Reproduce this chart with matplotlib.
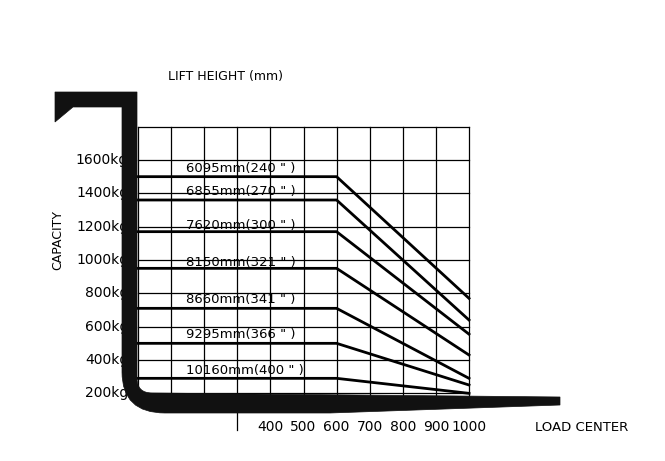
import matplotlib
matplotlib.use("Agg")
import matplotlib.pyplot as plt
import numpy as np
from matplotlib.path import Path
from matplotlib.patches import PathPatch

FONT = ['Liberation Sans Narrow', 'DejaVu Sans']
plt.rcParams['font.family'] = FONT

lift_labels = ['6095mm(240 " )', '6855mm(270 " )', '7620mm(300 " )', '8150mm(321 " )',
               '8660mm(341 " )', '9295mm(366 " )', '10160mm(400 " )']
cap_flat = [1500, 1360, 1170, 950, 710, 500, 290]
cap_1000 = [770, 640, 555, 430, 290, 250, 200]
label_y = [1550, 1410, 1210, 985, 760, 555, 340]
load_centers = [0, 600, 1000]
x_ticks = [400, 500, 600, 700, 800, 900, 1000]
y_ticks = [1600, 1400, 1200, 1000, 800, 600, 400, 200]

W, H = 665, 461
fig = plt.figure(figsize=(W/100, H/100), dpi=100)
ax = fig.add_axes([0, 0, 1, 1])
sx = 0.331
sy = 6.0
x0, y0 = 138, 160
ax.set_xlim(-x0/sx, (W-x0)/sx)
ax.set_ylim(1600-(H-y0)*sy, 1600+y0*sy)
ax.axis('off')

# grid
ytop, ybot = 1800, 175
for gx in range(0, 1001, 100):
    ax.plot([gx, gx], [ybot, ytop], color='black', lw=0.9)
for gy in range(200, 1801, 200):
    ax.plot([0, 1000], [gy, gy], color='black', lw=0.9)
ax.plot([300, 300], [ybot, 1600-(430-160)*sy], color='black', lw=0.9)

for lab, cf, ce, ly in zip(lift_labels, cap_flat, cap_1000, label_y):
    ax.plot(load_centers, [cf, cf, ce], color='black', lw=2, solid_joinstyle='miter')
    ax.text(145, ly, lab, fontsize=9.5, ha='left', va='center')

for t in x_ticks:
    ax.text(t, 1600-(427-160)*sy, str(t), fontsize=10, ha='center', va='center')
for t in y_ticks:
    ax.text(-30, t, f'{t}kg', fontsize=10, ha='right', va='center')

ax.text((225-x0)/sx, 1600-(76-160)*sy, 'LIFT HEIGHT (mm)', fontsize=9, ha='center', va='center')
ax.text((582-x0)/sx, 1600-(427-160)*sy, 'LOAD CENTER', fontsize=9.5, ha='center', va='center')
ax.text((58-x0)/sx, 1600-(240-160)*sy, 'CAPACITY', fontsize=9, ha='center', va='center', rotation=90)

# fork (pixel coordinate overlay)
fx = fig.add_axes([0, 0, 1, 1], facecolor='none')
fx.set_xlim(0, W); fx.set_ylim(H, 0); fx.axis('off')
verts = [(55, 92), (137, 92), (137, 378), (137, 393), (152, 393), (560, 397), (560, 405),
         (330, 413), (165, 413), (122, 413), (122, 372), (122, 107), (73, 107), (55, 122), (55, 92)]
codes = [Path.MOVETO, Path.LINETO, Path.LINETO, Path.CURVE3, Path.CURVE3, Path.LINETO, Path.LINETO,
         Path.LINETO, Path.LINETO, Path.CURVE3, Path.CURVE3, Path.LINETO, Path.LINETO, Path.LINETO, Path.CLOSEPOLY]
fx.add_patch(PathPatch(Path(verts, codes), facecolor='#111111', edgecolor='#111111', lw=0.5))

fig.savefig('out.png', dpi=100)
